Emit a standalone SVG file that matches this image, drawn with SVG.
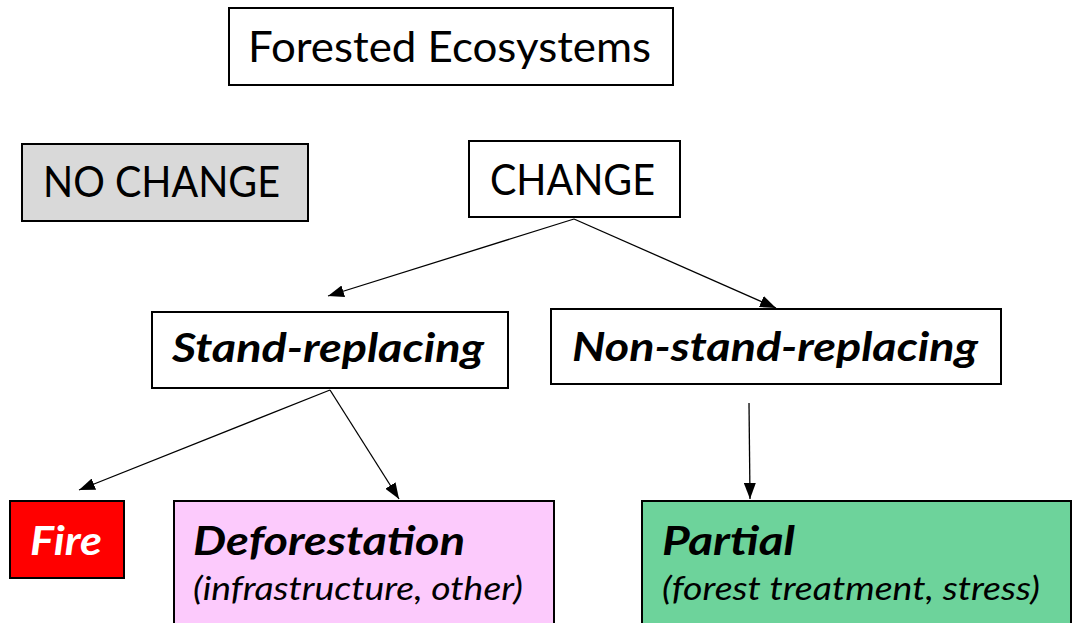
<svg xmlns="http://www.w3.org/2000/svg" width="1078" height="623" viewBox="0 0 1078 623">
<defs>
<style>
.box{stroke:#000;stroke-width:2;}
.t{font-family:Lato,"Open Sans","Liberation Sans",sans-serif;fill:#000;}
.reg{font-size:42px;}
.bi{font-size:40px;font-weight:bold;font-style:italic;}
.it{font-size:32px;font-style:italic;}
.conn line{stroke:#000;stroke-width:1.3;}
</style>
<marker id="ah2" viewBox="0 0 16 12" refX="16" refY="6" markerWidth="16" markerHeight="12" markerUnits="userSpaceOnUse" orient="auto">
<path d="M0,0 L16,6 L0,12 Z" fill="#000"/>
</marker>
</defs>
<rect width="1078" height="623" fill="#fff"/>
<g id="forested">
<rect class="box" x="229" y="8" width="444" height="77" fill="#fff"/>
<text class="t reg" x="248" y="62" textLength="403" lengthAdjust="spacingAndGlyphs">Forested Ecosystems</text>
</g>
<g id="nochange">
<rect class="box" x="22" y="144" width="286" height="77" fill="#d9d9d9"/>
<text class="t reg" x="43" y="197" textLength="237" lengthAdjust="spacingAndGlyphs">NO CHANGE</text>
</g>
<g id="change">
<rect class="box" x="469" y="141" width="211" height="76" fill="#fff"/>
<text class="t reg" x="490" y="195" textLength="165" lengthAdjust="spacingAndGlyphs">CHANGE</text>
</g>
<g id="stand">
<rect class="box" x="152" y="312" width="356" height="76" fill="#fff"/>
<text class="t bi" x="172" y="362" textLength="312" lengthAdjust="spacingAndGlyphs">Stand-replacing</text>
</g>
<g id="nonstand">
<rect class="box" x="551" y="309" width="450" height="75" fill="#fff"/>
<text class="t bi" x="572" y="361" textLength="406" lengthAdjust="spacingAndGlyphs">Non-stand-replacing</text>
</g>
<g id="fire">
<rect class="box" x="10" y="501" width="114" height="77" fill="#ff0000"/>
<text class="t bi" x="30" y="555" textLength="72" lengthAdjust="spacingAndGlyphs" style="fill:#fff">Fire</text>
</g>
<g id="deforestation">
<rect class="box" x="174" y="501" width="380" height="124" fill="#fccafc"/>
<text class="t bi" x="193" y="555" textLength="272" lengthAdjust="spacingAndGlyphs">Deforestation</text>
<text class="t it" x="193" y="600" textLength="330" lengthAdjust="spacingAndGlyphs">(infrastructure, other)</text>
</g>
<g id="partial">
<rect class="box" x="642" y="501" width="429" height="124" fill="#6dd39b"/>
<text class="t bi" x="662" y="555" textLength="133" lengthAdjust="spacingAndGlyphs">Partial</text>
<text class="t it" x="662" y="600" textLength="378" lengthAdjust="spacingAndGlyphs">(forest treatment, stress)</text>
</g>
<g id="connectors" class="conn">
<line x1="574" y1="219" x2="328" y2="296" marker-end="url(#ah2)"/>
<line x1="574" y1="219" x2="776" y2="308" marker-end="url(#ah2)"/>
<line x1="330" y1="390" x2="79" y2="490" marker-end="url(#ah2)"/>
<line x1="330" y1="390" x2="399" y2="499" marker-end="url(#ah2)"/>
<line x1="749" y1="403" x2="750" y2="499" marker-end="url(#ah2)"/>
</g>
</svg>
